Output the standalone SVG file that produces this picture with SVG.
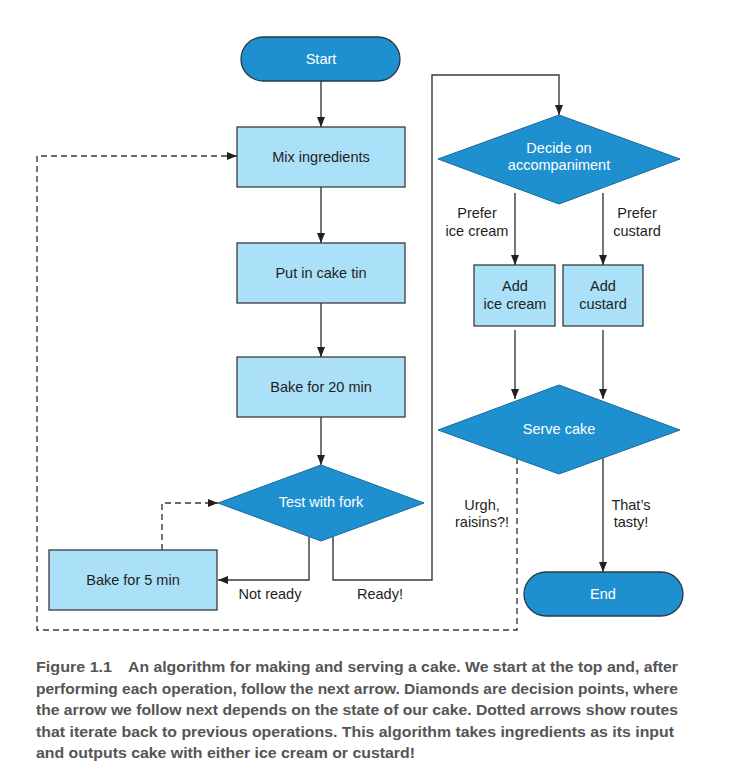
<svg xmlns="http://www.w3.org/2000/svg" width="733" height="770" viewBox="0 0 733 770">
<defs>
<marker id="arr" viewBox="0 0 10 8" refX="10" refY="4" markerWidth="10" markerHeight="8" markerUnits="userSpaceOnUse" orient="auto">
<path d="M0,0 L10,4 L0,8 Z" fill="#231f20"/>
</marker>
</defs>
<style>
.proc{fill:#abe0f9;stroke:#3a3a3a;stroke-width:1.3}
.dec{fill:#1e90d0;stroke:#1b6a9a;stroke-width:1}
.term{fill:#1e90d0;stroke:#2a3a46;stroke-width:1.3}
.t{font-family:"Liberation Sans",Arial,sans-serif;font-size:14.5px;fill:#231f20;text-anchor:middle}
.w{fill:#ffffff}
.c{fill:none;stroke:#3a3a3a;stroke-width:1.4}
.d{stroke-dasharray:6,4}
.cap{font-family:"Liberation Sans",Arial,sans-serif;font-size:15.5px;font-weight:bold;fill:#555555}
</style>
<rect width="733" height="770" fill="#ffffff"/>
<g id="connectors">
<path class="c" d="M321,81 V127" marker-end="url(#arr)"/>
<path class="c" d="M321,187 V243" marker-end="url(#arr)"/>
<path class="c" d="M321,303 V357" marker-end="url(#arr)"/>
<path class="c" d="M321,417 V465" marker-end="url(#arr)"/>
<path class="c" d="M309,537 V580 H218" marker-end="url(#arr)"/>
<path class="c" d="M333,537 V580 H432 V75 H559 V115" marker-end="url(#arr)"/>
<path class="c d" d="M162,550 V503 H218" marker-end="url(#arr)"/>
<path class="c d" d="M517,458 V630 H37 V156 H237" marker-end="url(#arr)"/>
<path class="c" d="M515,193 V265" marker-end="url(#arr)"/>
<path class="c" d="M603,193 V265" marker-end="url(#arr)"/>
<path class="c" d="M515,330 V399" marker-end="url(#arr)"/>
<path class="c" d="M603,330 V399" marker-end="url(#arr)"/>
<path class="c" d="M603,458 V572" marker-end="url(#arr)"/>
<text class="t" x="270" y="599">Not ready</text>
<text class="t" x="380" y="599">Ready!</text>
<text class="t" x="477" y="218">Prefer</text>
<text class="t" x="477" y="236">ice cream</text>
<text class="t" x="637" y="218">Prefer</text>
<text class="t" x="637" y="236">custard</text>
<text class="t" x="482" y="510">Urgh,</text>
<text class="t" x="482" y="527">raisins?!</text>
<text class="t" x="631" y="510">That’s</text>
<text class="t" x="631" y="527">tasty!</text>
</g>
<g id="start">
<rect class="term" x="241" y="37" width="159" height="44" rx="22"/>
<text class="t w" x="321" y="64">Start</text>
</g>
<g id="mix">
<rect class="proc" x="237" y="127" width="168" height="60"/>
<text class="t" x="321" y="162">Mix ingredients</text>
</g>
<g id="tin">
<rect class="proc" x="237" y="243" width="168" height="60"/>
<text class="t" x="321" y="278">Put in cake tin</text>
</g>
<g id="bake20">
<rect class="proc" x="237" y="357" width="168" height="60"/>
<text class="t" x="321" y="392">Bake for 20 min</text>
</g>
<g id="test">
<polygon class="dec" points="321,465 424,503 321,541 218,503"/>
<text class="t w" x="321" y="507">Test with fork</text>
</g>
<g id="bake5">
<rect class="proc" x="49" y="550" width="168" height="60"/>
<text class="t" x="133" y="585">Bake for 5 min</text>
</g>
<g id="decide">
<polygon class="dec" points="559,115 680,159 559,204 438,159"/>
<text class="t w" x="559" y="153">Decide on</text>
<text class="t w" x="559" y="170">accompaniment</text>
</g>
<g id="icecream">
<rect class="proc" x="474" y="265" width="81" height="61"/>
<text class="t" x="515" y="291">Add</text>
<text class="t" x="515" y="309">ice cream</text>
</g>
<g id="custard">
<rect class="proc" x="563" y="265" width="80" height="61"/>
<text class="t" x="603" y="291">Add</text>
<text class="t" x="603" y="309">custard</text>
</g>
<g id="serve">
<polygon class="dec" points="559,385 680,430 559,474 438,430"/>
<text class="t w" x="559" y="434">Serve cake</text>
</g>
<g id="end">
<rect class="term" x="524" y="572" width="159" height="44" rx="22"/>
<text class="t w" x="603" y="599">End</text>
</g>
<g id="caption">
<text class="cap" x="36" y="672" textLength="76" lengthAdjust="spacingAndGlyphs">Figure 1.1</text>
<text class="cap" x="128" y="672" textLength="550" lengthAdjust="spacingAndGlyphs">An algorithm for making and serving a cake. We start at the top and, after</text>
<text class="cap" x="36" y="693.5" textLength="642" lengthAdjust="spacingAndGlyphs">performing each operation, follow the next arrow. Diamonds are decision points, where</text>
<text class="cap" x="36" y="715" textLength="642" lengthAdjust="spacingAndGlyphs">the arrow we follow next depends on the state of our cake. Dotted arrows show routes</text>
<text class="cap" x="36" y="736.5" textLength="638" lengthAdjust="spacingAndGlyphs">that iterate back to previous operations. This algorithm takes ingredients as its input</text>
<text class="cap" x="36" y="758" textLength="379" lengthAdjust="spacingAndGlyphs">and outputs cake with either ice cream or custard!</text>
</g>
</svg>
